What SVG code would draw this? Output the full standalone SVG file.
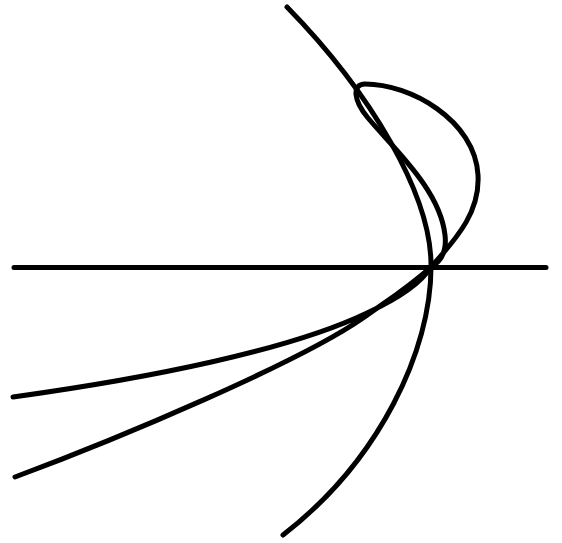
<svg xmlns="http://www.w3.org/2000/svg" width="562" height="543" viewBox="0 0 562 543">
<style>
.c{fill:none;stroke:#000;stroke-width:5;stroke-linecap:round;stroke-linejoin:round}
</style>
<rect width="562" height="543" fill="#fff"/>
<line class="c" x1="14" y1="267.5" x2="546" y2="267.5" stroke-width="4.5"/>
<path class="c" d="M287,7 C370,92 432,195 431,267 C431,350 380,460 283,535"/>
<path class="c" d="M13,397 C150,378 290,350 367,313 C395,300 420,285 431,267 C460,235 480,210 478,175 C475,120 410,84 365,84 C352,84 353,100 368,118 C395,150 440,190 445,235 C447,252 440,262 431,267 C405,290 385,302 363,318 C300,362 120,438 15,477"/>
</svg>
